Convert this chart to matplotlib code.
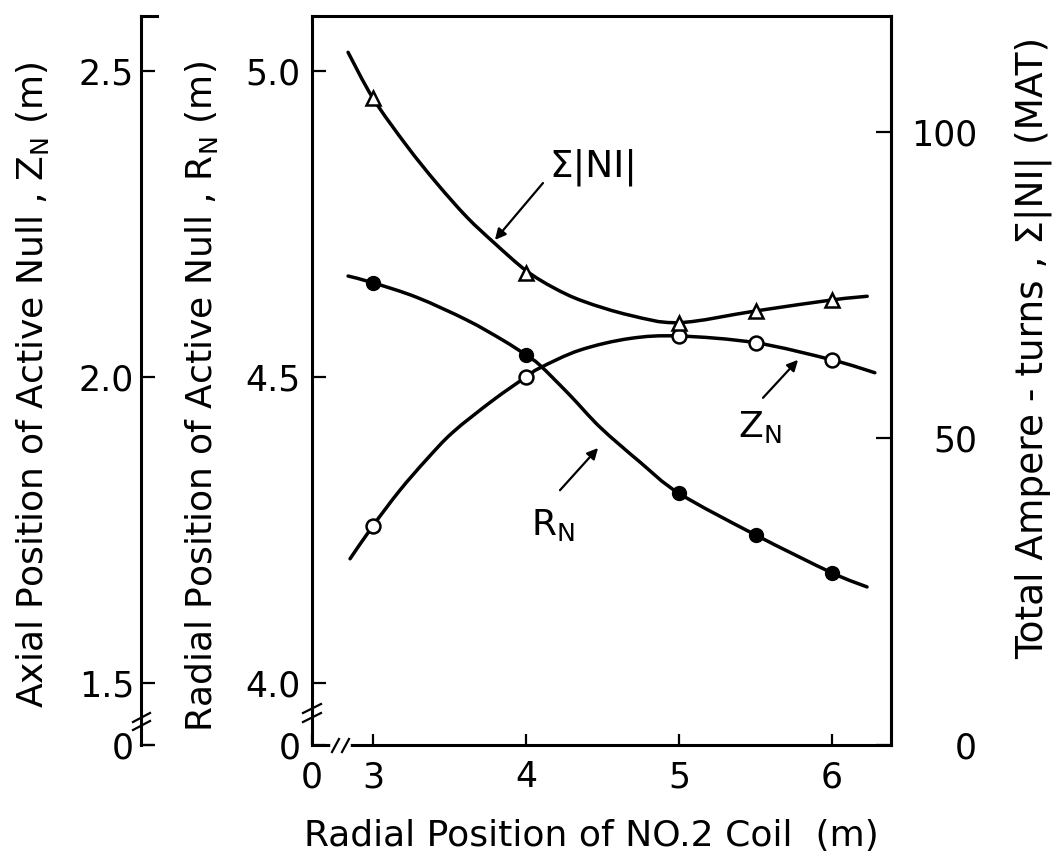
import matplotlib
matplotlib.use("Agg")
import matplotlib.pyplot as plt
from matplotlib.path import Path
from matplotlib.patches import PathPatch

# ---------------- data ----------------
coil_pos = [3, 4, 5, 5.5, 6]                      # Radial position of NO.2 coil (m)
R_N = [4.654, 4.536, 4.310, 4.242, 4.180]         # radial position of active null (m)
Z_N = [1.757, 2.000, 2.067, 2.056, 2.028]         # axial position of active null (m)
S_NI = [105.5, 77.0, 68.8, 70.8, 72.6]            # total ampere-turns (MAT)

# hand-drawn smooth curves
S_curve_x = [2.837, 3.0, 3.222, 3.418, 3.614, 3.797, 4.0, 4.18, 4.373, 4.680, 5.0, 5.5, 6.0, 6.23]
S_curve_y = [113.0, 105.5, 97.7, 91.6, 86.1, 81.8, 77.4, 74.6, 72.4, 70.1, 68.9, 70.8, 72.6, 73.2]
R_curve_x = [2.837, 3.0, 3.288, 3.614, 3.850, 4.0, 4.092, 4.288, 4.484, 4.745, 5.0, 5.5, 6.0, 6.229]
R_curve_y = [4.665, 4.654, 4.630, 4.593, 4.560, 4.536, 4.519, 4.470, 4.418, 4.361, 4.310, 4.242, 4.180, 4.157]
Z_curve_x = [2.85, 3.0, 3.176, 3.353, 3.523, 3.784, 4.0, 4.092, 4.353, 4.680, 5.0, 5.5, 6.0, 6.28]
Z_curve_y = [1.703, 1.757, 1.815, 1.866, 1.910, 1.962, 2.000, 2.015, 2.044, 2.063, 2.067, 2.056, 2.028, 2.007]

x_ticks = [3, 4, 5, 6]
x_tick_labels = ["3", "4", "5", "6"]
R_ticks = [4.0, 4.5, 5.0]
R_tick_labels = ["4.0", "4.5", "5.0"]
Z_ticks = [1.5, 2.0, 2.5]
Z_tick_labels = ["1.5", "2.0", "2.5"]
S_ticks = [0, 50, 100]
S_tick_labels = ["0", "50", "100"]

x_label = "Radial Position of NO.2 Coil  (m)"
R_label = "Radial Position of Active Null , R$_{\\mathregular{N}}$ (m)"
Z_label = "Axial Position of Active Null , Z$_{\\mathregular{N}}$ (m)"
S_label = "Total Ampere - turns , Σ|NI| (MAT)"

# ---------------- layout ----------------
plt.rcParams['font.family'] = ['DejaVu Sans']
W, H = 1058, 861
L, R, T, B = 312, 891, 16, 745
fig = plt.figure(figsize=(W / 100, H / 100), dpi=100)
ax = fig.add_axes([L / W, 1 - B / H, (R - L) / W, (B - T) / H])

XLIM = (2.6013, 6.3856)
RLIM = (3.8987, 5.0899)
ZLIM = (1.3987, 2.5899)
SLIM = (0, 118.92)

LW_SPINE = 2.2
LW_CURVE = 2.5
TICK_FS = 25
LABEL_FS = 26

ax.set_xlim(*XLIM)
ax.set_ylim(*RLIM)
for s in ax.spines.values():
    s.set_linewidth(LW_SPINE)

# Z axis (far left)
ax_z = ax.twinx()
ax_z.set_ylim(*ZLIM)
ax_z.spines['right'].set_visible(False)
ax_z.spines['top'].set_visible(False)
ax_z.spines['bottom'].set_visible(False)
ax_z.spines['left'].set_position(('axes', (141 - L) / (R - L)))
ax_z.spines['left'].set_linewidth(LW_SPINE)
ax_z.yaxis.set_ticks_position('left')
ax_z.yaxis.set_label_position('left')

# Sigma axis (right)
ax_s = ax.twinx()
ax_s.set_ylim(*SLIM)
for k in ['left', 'top', 'bottom']:
    ax_s.spines[k].set_visible(False)
ax_s.spines['right'].set_linewidth(LW_SPINE)


def smooth_curve(axis, xs, ys):
    """Draw a smooth (Catmull-Rom / cubic Bezier) path through the sampled points."""
    pts = list(zip(xs, ys))
    n = len(pts)
    verts = [pts[0]]
    codes = [Path.MOVETO]
    for i in range(n - 1):
        p0 = pts[i - 1] if i > 0 else pts[i]
        p1 = pts[i]
        p2 = pts[i + 1]
        p3 = pts[i + 2] if i + 2 < n else pts[i + 1]
        c1 = (p1[0] + (p2[0] - p0[0]) / 6, p1[1] + (p2[1] - p0[1]) / 6)
        c2 = (p2[0] - (p3[0] - p1[0]) / 6, p2[1] - (p3[1] - p1[1]) / 6)
        verts += [c1, c2, p2]
        codes += [Path.CURVE4] * 3
    patch = PathPatch(Path(verts, codes), facecolor='none', edgecolor='k',
                      lw=LW_CURVE, capstyle='round', zorder=3)
    axis.add_patch(patch)


# ---------------- curves & markers ----------------
smooth_curve(ax_s, S_curve_x, S_curve_y)
ax_s.plot(coil_pos, S_NI, ls='none', marker='^', ms=10, mfc='white', mec='k', mew=1.8, zorder=4)

smooth_curve(ax, R_curve_x, R_curve_y)
ax.plot(coil_pos, R_N, ls='none', marker='o', ms=10, mfc='k', mec='k', zorder=4)

smooth_curve(ax_z, Z_curve_x, Z_curve_y)
ax_z.plot(coil_pos, Z_N, ls='none', marker='o', ms=10, mfc='white', mec='k', mew=1.8, zorder=4)

ax_s.set_ylim(*SLIM)
ax_z.set_ylim(*ZLIM)
ax.set_xlim(*XLIM)
ax.set_ylim(*RLIM)

# ---------------- ticks ----------------
ax.set_xticks([XLIM[0]] + x_ticks)
ax.set_xticklabels(["0"] + x_tick_labels)
ax.tick_params(axis='x', direction='in', length=8, width=1.6, labelsize=TICK_FS, pad=11, top=False)
ax.set_yticks([RLIM[0]] + R_ticks)
ax.set_yticklabels(["0"] + R_tick_labels)
ax.tick_params(axis='y', direction='in', length=10, width=1.6, labelsize=TICK_FS, pad=8, right=False)

ax_z.set_yticks([ZLIM[0]] + Z_ticks)
ax_z.set_yticklabels(["0"] + Z_tick_labels)
ax_z.tick_params(axis='y', direction='in', length=10, width=1.6, labelsize=TICK_FS, pad=5,
                 left=True, right=False, labelleft=True, labelright=False)

ax_s.set_yticks(S_ticks)
ax_s.set_yticklabels(S_tick_labels)
ax_s.tick_params(axis='y', direction='in', length=11, width=1.6, labelsize=TICK_FS, pad=62)
for lab in ax_s.get_yticklabels():
    lab.set_horizontalalignment('right')

# ---------------- axis labels ----------------
ax.set_xlabel(x_label, fontsize=LABEL_FS)
ax.xaxis.set_label_coords(((305 + 877) / 2 - L) / (R - L), (B - 836) / (B - T))
ax.xaxis.label.set_va('center')

ax.set_ylabel(R_label, fontsize=LABEL_FS, va='center')
ax.yaxis.set_label_coords((202 - L) / (R - L), (B - 397) / (B - T))

ax_z.set_ylabel(Z_label, fontsize=LABEL_FS, va='center')
ax_z.yaxis.set_label_coords((32 - L) / (R - L), (B - 385) / (B - T))

ax_s.set_ylabel(S_label, fontsize=27, va='center', rotation=90)
ax_s.yaxis.set_label_coords((1033 - L) / (R - L), (B - 348) / (B - T))

# ---------------- annotations ----------------
arrow = dict(arrowstyle='-|>', color='k', lw=1.6, mutation_scale=16, shrinkA=0, shrinkB=0)
ax.annotate("", xy=(3.797, 4.724), xytext=(4.111, 4.817), arrowprops=arrow)
ax.text(4.15, 4.843, "Σ|NI|", fontsize=27, ha='left', va='center')
ax.annotate("", xy=(5.778, 4.528), xytext=(5.549, 4.466), arrowprops=arrow)
ax.text(5.53, 4.418, "Z$_{\\mathregular{N}}$", fontsize=26, ha='center', va='center')
ax.annotate("", xy=(4.471, 4.384), xytext=(4.222, 4.315), arrowprops=arrow)
ax.text(4.176, 4.258, "R$_{\\mathregular{N}}$", fontsize=26, ha='center', va='center')

# ---------------- axis breaks ----------------
ta = ax.transAxes
def ax_x(px):
    return (px - L) / (R - L)
def ax_y(py):
    return (B - py) / (B - T)

# x-axis break
ax.plot([ax_x(333), ax_x(348)], [0, 0], color='white', lw=4, transform=ta, clip_on=False, zorder=5)
for x0 in (332, 342):
    ax.plot([ax_x(x0), ax_x(x0 + 7)], [ax_y(752), ax_y(739)], color='k', lw=1.6,
            transform=ta, clip_on=False, zorder=6)
# R-axis break
for y0 in (722, 713):
    ax.plot([ax_x(303), ax_x(321)], [ax_y(y0), ax_y(y0 - 9)], color='k', lw=1.6,
            transform=ta, clip_on=False, zorder=6)
# Z-axis break, foot and top cap
for y0 in (730, 722):
    ax.plot([ax_x(133), ax_x(150)], [ax_y(y0), ax_y(y0 - 9)], color='k', lw=1.6,
            transform=ta, clip_on=False, zorder=6)
ax.plot([ax_x(141), ax_x(153)], [0, 0], color='k', lw=1.6, transform=ta, clip_on=False)
ax.plot([ax_x(141), ax_x(157)], [1, 1], color='k', lw=LW_SPINE, transform=ta, clip_on=False)

fig.savefig("out.png", dpi=100)
